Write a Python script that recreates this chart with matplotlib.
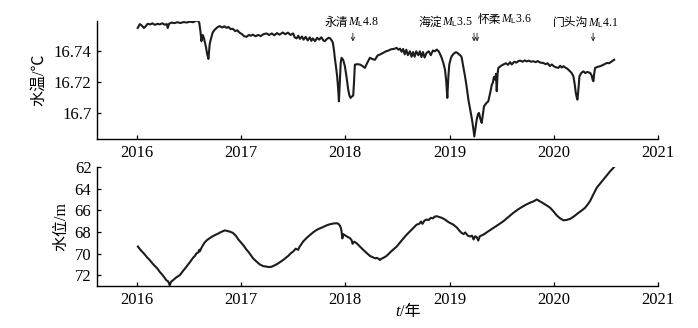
import numpy as np
import matplotlib
matplotlib.use("Agg")
import matplotlib.pyplot as plt

plt.rcParams['font.family'] = ['Liberation Serif', 'Noto Sans CJK SC']
plt.rcParams['mathtext.fontset'] = 'custom'
plt.rcParams['mathtext.rm'] = 'Liberation Sans'
plt.rcParams['mathtext.it'] = 'Liberation Serif:italic'
plt.rcParams['mathtext.bf'] = 'Liberation Serif:bold'

# 水温 (top panel)
temp_t = [
    2016.010, 2016.030, 2016.050, 2016.070, 2016.085, 2016.105, 2016.130, 2016.150, 2016.175, 2016.200,
    2016.221, 2016.245, 2016.270, 2016.290, 2016.298, 2016.310, 2016.336, 2016.360, 2016.390, 2016.420,
    2016.450, 2016.480, 2016.510, 2016.540, 2016.565, 2016.585, 2016.600, 2016.612, 2016.621, 2016.633,
    2016.645, 2016.655, 2016.665, 2016.675, 2016.688, 2016.700, 2016.710, 2016.729, 2016.750, 2016.775,
    2016.797, 2016.820, 2016.840, 2016.861, 2016.880, 2016.900, 2016.921, 2016.945, 2016.965, 2016.988,
    2017.010, 2017.030, 2017.053, 2017.075, 2017.095, 2017.113, 2017.140, 2017.165, 2017.190, 2017.215,
    2017.245, 2017.270, 2017.295, 2017.320, 2017.345, 2017.370, 2017.401, 2017.425, 2017.450, 2017.475,
    2017.500, 2017.515, 2017.533, 2017.550, 2017.565, 2017.585, 2017.600, 2017.620, 2017.640, 2017.660,
    2017.675, 2017.689, 2017.710, 2017.730, 2017.750, 2017.770, 2017.790, 2017.804, 2017.820, 2017.840,
    2017.852, 2017.870, 2017.881, 2017.892, 2017.900, 2017.912, 2017.922, 2017.932, 2017.939, 2017.948,
    2017.956, 2017.964, 2017.980, 2017.996, 2018.012, 2018.028, 2018.040, 2018.051, 2018.065, 2018.076,
    2018.084, 2018.092, 2018.115, 2018.140, 2018.165, 2018.188, 2018.210, 2018.236, 2018.260, 2018.284,
    2018.310, 2018.335, 2018.364, 2018.390, 2018.415, 2018.440, 2018.465, 2018.492, 2018.510, 2018.525,
    2018.540, 2018.555, 2018.570, 2018.585, 2018.600, 2018.620, 2018.635, 2018.650, 2018.665, 2018.680,
    2018.700, 2018.715, 2018.730, 2018.745, 2018.760, 2018.780, 2018.800, 2018.820, 2018.840, 2018.860,
    2018.876, 2018.895, 2018.910, 2018.924, 2018.940, 2018.956, 2018.968, 2018.978, 2018.988, 2018.997,
    2019.010, 2019.020, 2019.040, 2019.060, 2019.075, 2019.090, 2019.105, 2019.116, 2019.130, 2019.148,
    2019.165, 2019.180, 2019.197, 2019.212, 2019.225, 2019.237, 2019.250, 2019.260, 2019.272, 2019.282,
    2019.295, 2019.308, 2019.320, 2019.330, 2019.350, 2019.371, 2019.390, 2019.405, 2019.414, 2019.425,
    2019.436, 2019.445, 2019.452, 2019.460, 2019.467, 2019.490, 2019.515, 2019.540, 2019.560, 2019.580,
    2019.596, 2019.620, 2019.640, 2019.660, 2019.676, 2019.700, 2019.720, 2019.740, 2019.760, 2019.780,
    2019.803, 2019.825, 2019.845, 2019.870, 2019.899, 2019.920, 2019.940, 2019.960, 2019.980, 2020.000,
    2020.020, 2020.043, 2020.060, 2020.075, 2020.091, 2020.110, 2020.130, 2020.155, 2020.170, 2020.187,
    2020.200, 2020.210, 2020.220, 2020.226, 2020.235, 2020.245, 2020.262, 2020.283, 2020.300, 2020.320,
    2020.347, 2020.362, 2020.372, 2020.379, 2020.386, 2020.395, 2020.420, 2020.443, 2020.465, 2020.485,
    2020.508, 2020.530, 2020.550, 2020.565, 2020.578,
]
temp_v = [
    16.7545, 16.7570, 16.7560, 16.7545, 16.7555, 16.7572, 16.7568, 16.7575, 16.7565, 16.7572,
    16.7568, 16.7575, 16.7566, 16.7570, 16.7545, 16.7572, 16.7580, 16.7576, 16.7582, 16.7577,
    16.7583, 16.7580, 16.7586, 16.7582, 16.7590, 16.7593, 16.7580, 16.7520, 16.7460, 16.7500,
    16.7480, 16.7450, 16.7420, 16.7380, 16.7346, 16.7440, 16.7470, 16.7516, 16.7535, 16.7550,
    16.7557, 16.7548, 16.7556, 16.7546, 16.7552, 16.7538, 16.7540, 16.7525, 16.7530, 16.7514,
    16.7505, 16.7492, 16.7488, 16.7500, 16.7495, 16.7502, 16.7492, 16.7500, 16.7493, 16.7505,
    16.7510, 16.7500, 16.7510, 16.7498, 16.7512, 16.7502, 16.7516, 16.7505, 16.7515, 16.7500,
    16.7510, 16.7485, 16.7478, 16.7495, 16.7475, 16.7490, 16.7470, 16.7488, 16.7465, 16.7485,
    16.7462, 16.7478, 16.7460, 16.7482, 16.7470, 16.7485, 16.7465, 16.7460, 16.7472, 16.7482,
    16.7480, 16.7465, 16.7450, 16.7400, 16.7350, 16.7290, 16.7234, 16.7150, 16.7073, 16.7200,
    16.7320, 16.7353, 16.7340, 16.7299, 16.7230, 16.7148, 16.7110, 16.7095, 16.7105, 16.7110,
    16.7200, 16.7309, 16.7312, 16.7310, 16.7300, 16.7288, 16.7320, 16.7353, 16.7345, 16.7340,
    16.7368, 16.7375, 16.7385, 16.7395, 16.7400, 16.7408, 16.7410, 16.7417, 16.7405, 16.7412,
    16.7392, 16.7410, 16.7375, 16.7405, 16.7370, 16.7395, 16.7360, 16.7390, 16.7360, 16.7395,
    16.7370, 16.7395, 16.7358, 16.7390, 16.7355, 16.7385, 16.7395, 16.7370, 16.7400, 16.7395,
    16.7406, 16.7395, 16.7375, 16.7353, 16.7320, 16.7277, 16.7200, 16.7095, 16.7230, 16.7310,
    16.7345, 16.7363, 16.7380, 16.7389, 16.7385, 16.7375, 16.7368, 16.7355, 16.7300, 16.7234,
    16.7160, 16.7084, 16.7020, 16.6966, 16.6910, 16.6847, 16.6910, 16.6955, 16.6990, 16.6998,
    16.6960, 16.6934, 16.6990, 16.7041, 16.7060, 16.7073, 16.7130, 16.7180, 16.7192, 16.7230,
    16.7213, 16.7250, 16.7138, 16.7250, 16.7288, 16.7300, 16.7310, 16.7318, 16.7308, 16.7325,
    16.7310, 16.7328, 16.7322, 16.7332, 16.7335, 16.7328, 16.7336, 16.7330, 16.7335, 16.7328,
    16.7331, 16.7325, 16.7332, 16.7322, 16.7320, 16.7312, 16.7318, 16.7300, 16.7310, 16.7298,
    16.7292, 16.7288, 16.7302, 16.7290, 16.7299, 16.7290, 16.7282, 16.7266, 16.7255, 16.7234,
    16.7180, 16.7127, 16.7095, 16.7084, 16.7150, 16.7234, 16.7255, 16.7266, 16.7255, 16.7262,
    16.7256, 16.7240, 16.7210, 16.7202, 16.7250, 16.7288, 16.7295, 16.7299, 16.7305, 16.7312,
    16.7320, 16.7318, 16.7328, 16.7335, 16.7340,
]

# 水位 (bottom panel)
level_t = [
    2016.012, 2016.040, 2016.070, 2016.100, 2016.125, 2016.150, 2016.175, 2016.200, 2016.221, 2016.245,
    2016.265, 2016.285, 2016.300, 2016.310, 2016.317, 2016.330, 2016.348, 2016.380, 2016.413, 2016.445,
    2016.477, 2016.510, 2016.540, 2016.560, 2016.573, 2016.590, 2016.600, 2016.605, 2016.625, 2016.650,
    2016.675, 2016.701, 2016.720, 2016.740, 2016.760, 2016.780, 2016.800, 2016.825, 2016.845, 2016.870,
    2016.895, 2016.924, 2016.950, 2016.975, 2017.020, 2017.050, 2017.080, 2017.116, 2017.150, 2017.180,
    2017.212, 2017.240, 2017.265, 2017.293, 2017.320, 2017.350, 2017.380, 2017.404, 2017.430, 2017.455,
    2017.480, 2017.500, 2017.525, 2017.548, 2017.560, 2017.596, 2017.630, 2017.660, 2017.692, 2017.720,
    2017.750, 2017.788, 2017.820, 2017.850, 2017.884, 2017.910, 2017.932, 2017.950, 2017.958, 2017.964,
    2017.972, 2017.980, 2017.995, 2018.020, 2018.044, 2018.060, 2018.070, 2018.085, 2018.108, 2018.140,
    2018.172, 2018.205, 2018.236, 2018.265, 2018.290, 2018.300, 2018.320, 2018.332, 2018.345, 2018.365,
    2018.396, 2018.440, 2018.492, 2018.540, 2018.588, 2018.635, 2018.684, 2018.710, 2018.725, 2018.740,
    2018.760, 2018.780, 2018.800, 2018.820, 2018.840, 2018.855, 2018.876, 2018.900, 2018.925, 2018.956,
    2018.990, 2019.036, 2019.070, 2019.095, 2019.116, 2019.135, 2019.150, 2019.175, 2019.196, 2019.215,
    2019.230, 2019.245, 2019.260, 2019.275, 2019.290, 2019.323, 2019.370, 2019.419, 2019.465, 2019.515,
    2019.560, 2019.611, 2019.660, 2019.707, 2019.740, 2019.772, 2019.800, 2019.820, 2019.836, 2019.860,
    2019.880, 2019.899, 2019.930, 2019.964, 2020.000, 2020.028, 2020.060, 2020.091, 2020.120, 2020.155,
    2020.195, 2020.235, 2020.270, 2020.299, 2020.325, 2020.347, 2020.380, 2020.412, 2020.450, 2020.491,
    2020.535, 2020.578,
]
level_v = [
    69.36, 69.70, 70.00, 70.35, 70.60, 70.90, 71.15, 71.40, 71.69, 71.95,
    72.20, 72.47, 72.55, 72.75, 72.93, 72.60, 72.47, 72.20, 72.00, 71.60,
    71.22, 70.80, 70.40, 70.20, 69.98, 69.90, 69.65, 69.80, 69.40, 69.00,
    68.75, 68.57, 68.45, 68.35, 68.25, 68.17, 68.05, 67.95, 67.86, 67.92,
    67.98, 68.10, 68.35, 68.70, 69.20, 69.60, 69.95, 70.44, 70.75, 71.00,
    71.16, 71.20, 71.25, 71.22, 71.10, 70.95, 70.75, 70.60, 70.40, 70.20,
    69.95, 69.82, 69.55, 69.66, 69.40, 68.89, 68.55, 68.30, 68.04, 67.85,
    67.70, 67.55, 67.40, 67.30, 67.23, 67.20, 67.23, 67.45, 67.65, 67.93,
    68.60, 68.20, 68.30, 68.45, 68.57, 68.75, 69.10, 68.90, 69.04, 69.35,
    69.66, 69.95, 70.22, 70.35, 70.45, 70.40, 70.48, 70.60, 70.48, 70.40,
    70.22, 69.80, 69.36, 68.80, 68.26, 67.80, 67.33, 67.25, 67.05, 67.25,
    66.95, 66.86, 66.90, 66.70, 66.75, 66.60, 66.55, 66.62, 66.70, 66.86,
    67.10, 67.33, 67.60, 67.90, 68.10, 68.20, 68.05, 68.35, 68.42, 68.35,
    68.70, 68.40, 68.48, 68.80, 68.40, 68.26, 67.95, 67.64, 67.35, 67.02,
    66.65, 66.24, 65.90, 65.62, 65.45, 65.30, 65.20, 65.10, 65.00, 65.15,
    65.25, 65.36, 65.55, 65.77, 66.15, 66.49, 66.75, 66.93, 66.90, 66.80,
    66.55, 66.24, 66.00, 65.77, 65.45, 65.15, 64.50, 63.90, 63.45, 62.96,
    62.45, 62.00,
]

# 地震事件标注：地名 + 震级
quake_places = ['永清', '海淀', '怀柔', '门头沟']
quake_mags = ['4.8', '3.5', '3.6', '4.1']
quake_t = [2018.073, 2019.234, 2019.263, 2020.376]

year_ticks = [2016, 2017, 2018, 2019, 2020, 2021]
temp_ticks = [16.70, 16.72, 16.74]
temp_ticklabels = ['16.7', '16.72', '16.74']
level_ticks = [62, 64, 66, 68, 70, 72]

line_c = '#1c1c1c'
fs = 12

fig = plt.figure(figsize=(6.98, 3.28), dpi=100)
ax1 = fig.add_axes([0.139, 0.576, 0.804, 0.360])
ax2 = fig.add_axes([0.139, 0.128, 0.804, 0.363])

for ax in (ax1, ax2):
    ax.spines['top'].set_visible(False)
    ax.spines['right'].set_visible(False)
    ax.spines['left'].set_linewidth(1.0)
    ax.spines['bottom'].set_linewidth(1.0)
    ax.tick_params(direction='in', length=3, width=0.9, labelsize=fs, pad=4)
    ax.set_xlim(2015.62, 2021.0)
    ax.set_xticks(year_ticks)

ax1.plot(temp_t, temp_v, color=line_c, lw=1.5)
ax1.set_ylim(16.683, 16.759)
ax1.set_yticks(temp_ticks)
ax1.set_yticklabels(temp_ticklabels)
ax1.set_ylabel('水温/℃', fontsize=11.5, labelpad=5)

ax2.plot(level_t, level_v, color=line_c, lw=1.5)
ax2.set_ylim(73.0, 62.0)
ax2.set_yticks(level_ticks)
ax2.set_ylabel('水位/m', fontsize=11.5, labelpad=4)

# x 轴标题 t/年 (斜体 t)
fig.text(0.573, 0.048, 't', fontsize=11.5, style='italic', family='Liberation Serif',
         ha='right', va='center')
fig.text(0.573, 0.048, '/年', fontsize=11.5, ha='left', va='center')

# 地震标注
split_x = [2018.025, 2018.930, 2019.490, 2020.328]
text_y = [16.7582, 16.7582, 16.7600, 16.7578]
afs = 8.5
for place, mag, sx, ty in zip(quake_places, quake_mags, split_x, text_y):
    ax1.text(sx, ty, place, fontsize=afs, ha='right', va='center', clip_on=False,
             family='Noto Sans CJK SC')
    ax1.text(sx, ty, '$M_{\\mathrm{L}}$' + mag, fontsize=afs, ha='left', va='center',
             clip_on=False)
for tq in quake_t:
    ax1.annotate('', xy=(tq, 16.7458), xytext=(tq, 16.7512),
                 arrowprops=dict(arrowstyle='->', lw=0.6, color=line_c,
                                 shrinkA=0, shrinkB=0, mutation_scale=6))

fig.savefig('out.png', dpi=100)
